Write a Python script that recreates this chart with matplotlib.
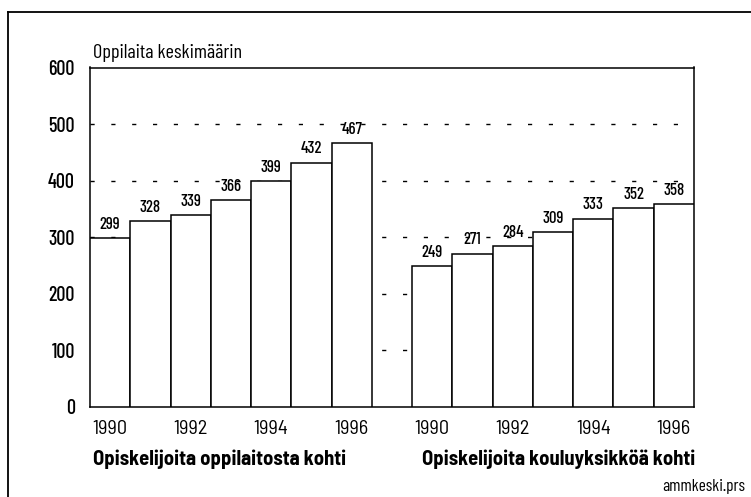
import matplotlib
matplotlib.use("Agg")
import matplotlib.pyplot as plt
from matplotlib.lines import Line2D

years = ["1990", "1991", "1992", "1993", "1994", "1995", "1996"]
per_institution = [299, 328, 339, 366, 399, 432, 467]
per_school_unit = [249, 271, 284, 309, 333, 352, 358]
group_labels = ["Opiskelijoita oppilaitosta kohti", "Opiskelijoita kouluyksikköä kohti"]
y_title = "Oppilaita keskimäärin"
source = "ammkeski.prs"
yticks = [0, 100, 200, 300, 400, 500, 600]

FONT = ["Barlow Condensed", "DejaVu Sans"]
SEMI = ["Barlow Semi Condensed", "DejaVu Sans"]
plt.rcParams["font.family"] = FONT

W, H = 751, 497
fig = plt.figure(figsize=(W / 100, H / 100), dpi=100)
ax = fig.add_axes([90 / W, 1 - 407 / H, (694 - 90) / W, (407 - 67.5) / H])

groups = [per_institution, per_school_unit]
offsets = [0, 8]
for vals, off in zip(groups, offsets):
    xs = [off + i for i in range(len(vals))]
    ax.bar(xs, vals, width=1, align="edge", color="white", edgecolor="black",
           linewidth=1.1, zorder=3)
    for x, v in zip(xs, vals):
        ax.text(x + 0.5, v + 11, str(v), ha="center", va="bottom", fontsize=12,
                fontweight=500, zorder=4)

ax.set_xlim(0, 15)
ax.set_ylim(0, 600)
ax.set_yticks(yticks)
ax.set_yticklabels([str(t) for t in yticks], fontsize=14.5, fontweight=500)
for t in yticks[1:-1]:
    ax.axhline(t, color="black", linewidth=1, linestyle=(0, (3, 12)), zorder=1)

xt = []
xl = []
for off in offsets:
    for i in range(0, len(years), 2):
        xt.append(off + i + 0.5)
        xl.append(years[i])
ax.set_xticks(xt)
ax.set_xticklabels(xl, fontsize=14.5, family=SEMI)
ax.tick_params(axis="both", length=0)
ax.tick_params(axis="y", pad=11)
ax.tick_params(axis="x", pad=9)
for s in ax.spines.values():
    s.set_linewidth(1.1)

fig.text(93 / W, 1 - 53 / H, y_title, ha="left", va="center", fontsize=14.5)
fig.text(93 / W, 1 - 459 / H, group_labels[0], ha="left", va="center",
         fontsize=14.8, fontweight="bold", family=SEMI)
fig.text(422 / W, 1 - 459 / H, group_labels[1], ha="left", va="center",
         fontsize=14.8, fontweight="bold", family=SEMI)
fig.text(745 / W, 1 - 486 / H, source, ha="right", va="center", fontsize=12.5)

# outer frame (left and top edges)
fig.add_artist(Line2D([8 / W, 8 / W], [0, 1 - 12 / H], transform=fig.transFigure,
                      color="black", linewidth=1.3))
fig.add_artist(Line2D([8 / W, 1], [1 - 12 / H, 1 - 12 / H], transform=fig.transFigure,
                      color="black", linewidth=1.3))

fig.savefig("out.png", dpi=100)
